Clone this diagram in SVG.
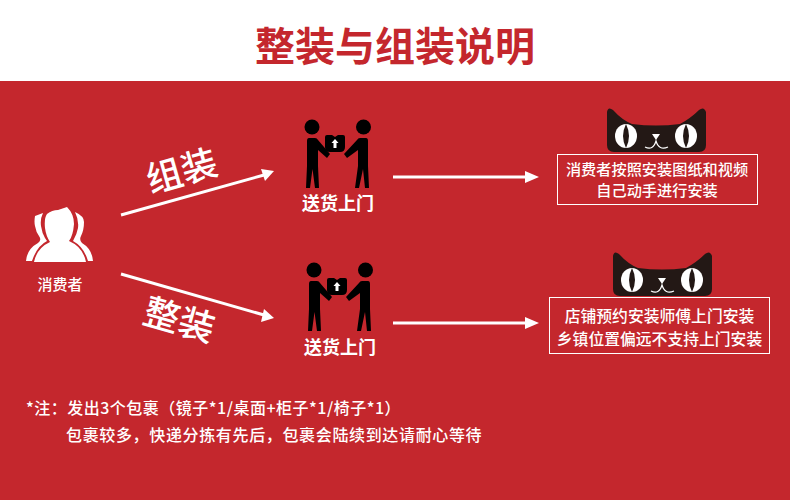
<svg xmlns="http://www.w3.org/2000/svg" width="790" height="500" viewBox="0 0 790 500">
<defs>
<g id="porter">
<circle cx="312" cy="127" r="7.500" fill="#000"/>
<circle cx="363.500" cy="127" r="7.500" fill="#000"/>
<path d="M309 138 L315 138 Q317 138 318 140 L330 154 L327 158 L318 150 L318 166 L319 188 L315 188 L312.500 169 L310 188 L306 188 L307 166 L307 141 Q307 138 309 138 Z" fill="#000"/>
<path d="M366 138 L360 138 Q358 138 357 140 L344 154 L347 158 L358 150 L358 166 L355 188 L359 188 L363 169 L365 188 L369 188 L368 166 L368 141 Q368 138 366 138 Z" fill="#000"/>
<path d="M325 137 Q325 135 327 135 L332 135 L335 137 L338 135 L343 135 Q345 135 345 137 L345 147 Q345 152 340 152 L330 152 Q325 152 325 147 Z" fill="#000"/>
<path d="M335 139 L338.500 143 L336.500 143 L336.500 148 L333.500 148 L333.500 143 L331.500 143 Z" fill="#fff"/>
</g>
<g id="cat">
<path d="M607 112 Q608 106 613 110 Q622 120 632 124 Q656 127 680 124 Q691 118 699 110 Q704 106 706 112 L706 145 Q706 152 699 152 L614 152 Q607 152 607 145 Z" fill="#231815"/>
<ellipse cx="626" cy="136" rx="11" ry="12" fill="#fff"/>
<path d="M626 124 Q620 136 626 148 Q632 136 626 124 Z" fill="#231815"/>
<ellipse cx="686" cy="136" rx="11" ry="12" fill="#fff"/>
<path d="M686 124 Q680 136 686 148 Q692 136 686 124 Z" fill="#231815"/>
<path d="M652 134 L660 134 L656 140 Z" fill="#fff"/>
<path d="M645 147 Q653 151 656 141 Q659 151 668 147" fill="none" stroke="#fff" stroke-width="1.200"/>
</g>
</defs>
<style>
text{font-family:"Noto Sans CJK SC","Liberation Sans",sans-serif;fill:#fff;text-anchor:middle}
.b{font-weight:700}
.m{font-weight:500}
.c{fill:none;stroke:#fff;stroke-width:3}
.h{fill:#fff;stroke:none}
.box{fill:none;stroke:#fff;stroke-width:1}
.n{font-size:15.200px;font-weight:500}
.n2{font-size:15.800px;font-weight:500}
.note{font-size:16px;font-weight:500;letter-spacing:.65px;text-anchor:start}
</style>
<rect width="790" height="500" fill="#c4272d"/>
<rect width="790" height="81" fill="#fff"/>
<text id="title" x="395" y="61" font-size="40" class="b" style="fill:#c4272d">整装与组装说明</text>
<g id="connectors">
<path class="c" d="M121 215 L264 175"/><path class="h" d="M274 171 L261 169 L265 181 Z"/>
<path class="c" d="M121 274 L264 315"/><path class="h" d="M274 318 L264 309 L261 322 Z"/>
<path class="c" d="M393 177 L528 177"/><path class="h" d="M539 177 L525 171 L525 183 Z"/>
<path class="c" d="M393 323 L528 323"/><path class="h" d="M539 323 L525 317 L525 329 Z"/>
</g>
<g id="label-zuzhuang"><text x="182" y="184" font-size="36" class="m" transform="rotate(-16 182 172)">组装</text></g>
<g id="label-zhengzhuang"><text x="179" y="333" font-size="36" class="m" transform="rotate(16 179 321)">整装</text></g>
<g id="consumer">
<path d="M26 261 Q27 249 38 243 Q42 240 39 236 Q36 232 35 226 Q34 222 35 216 L43 213 Q40 219 41 226 Q42 233 45 238 L47 241 Q37 246 32 261 Z" fill="#fff"/>
<path d="M93 261 Q92 249 82 243 Q79 240 81 236 Q84 230 84 222 Q84 216 75 212 Q79 220 78 228 Q77 234 73 241 Q84 247 88 261 Z" fill="#fff"/>
<path d="M34 262 Q37 248 50 242 Q46 236 45 228 Q44 218 47 214 Q52 210 58 210 L67 207 Q74 214 74 224 Q73 236 69 241 Q83 247 86 262 Z" fill="#fff"/>
<text x="60" y="290" font-size="15" class="m">消费者</text>
</g>
<g id="delivery-1">
<use href="#porter"/>
<text x="338" y="210" font-size="18" class="b">送货上门</text>
</g>
<g id="delivery-2">
<use transform="translate(2 143)" href="#porter"/>
<text x="340" y="354" font-size="18" class="b">送货上门</text>
</g>
<g id="result-1">
<use href="#cat"/>
<rect class="box" x="557.500" y="154.500" width="200" height="50"/>
<text class="n" x="657" y="175">消费者按照安装图纸和视频</text>
<text class="n" x="657" y="196">自己动手进行安装</text>
</g>
<g id="result-2">
<use transform="translate(6 144)" href="#cat"/>
<rect class="box" x="549.500" y="297.500" width="220" height="56"/>
<text class="n2" x="659.500" y="322">店铺预约安装师傅上门安装</text>
<text class="n2" x="659.500" y="345">乡镇位置偏远不支持上门安装</text>
</g>
<g id="note">
<text class="note" x="26" y="414" style="letter-spacing:.5px">*注：发出3个包裹（镜子*1/桌面+柜子*1/椅子*1）</text>
<text class="note" x="66" y="441">包裹较多，快递分拣有先后，包裹会陆续到达请耐心等待</text>
</g>
</svg>
